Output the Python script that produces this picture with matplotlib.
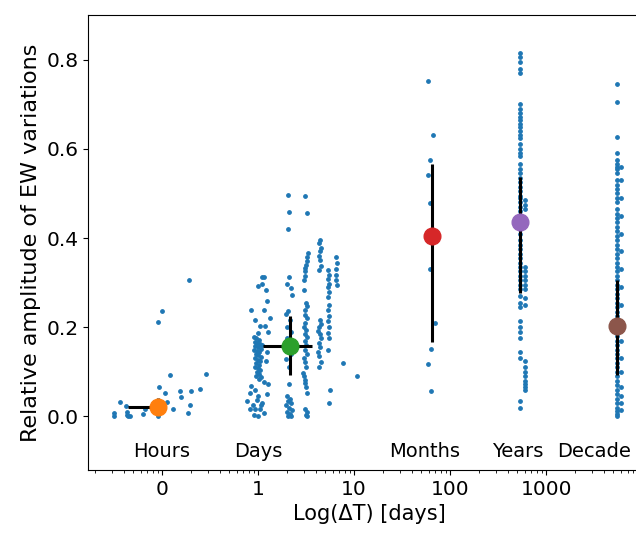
import matplotlib
matplotlib.use('Agg')
import matplotlib.pyplot as plt
from matplotlib.ticker import FixedLocator, FixedFormatter

# time baselines (days) and relative EW amplitude per group
hours_dt = [0.0316, 0.0316, 0.0365, 0.042, 0.043, 0.043, 0.044, 0.046, 0.063, 0.066,
            0.091, 0.092, 0.093, 0.100, 0.107, 0.113, 0.121, 0.130, 0.154, 0.158,
            0.187, 0.191, 0.196, 0.200, 0.249, 0.287]
hours_amp = [0.008, 0.0, 0.033, 0.023, 0.010, 0.004, 0.0, 0.0, 0.006, 0.016,
             0.0, 0.211, 0.067, 0.237, 0.052, 0.033, 0.094, 0.017, 0.058, 0.043,
             0.008, 0.306, 0.025, 0.058, 0.062, 0.096]

days_dt = [1.09, 1.14, 0.99, 1.11, 1.21, 1.23, 0.845, 1.14, 1.32, 0.93, 1.05, 1.18, 1.28, 1.0,
           0.90, 0.95, 1.02, 0.92, 0.98, 1.05, 1.10, 0.94, 1.0, 1.07, 0.91, 0.97, 1.03, 1.25, 0.95,
           1.01, 1.08, 0.93, 0.99, 1.04, 1.20, 0.96, 1.02, 0.94, 1.0, 1.06, 0.97, 1.03, 0.95, 1.08,
           1.02, 1.14, 1.28, 0.845, 0.93, 0.825, 1.23, 1.01, 0.76, 0.97, 1.09, 0.825, 0.93, 1.05,
           0.9, 1.01, 1.14, 1.07, 0.88,
           2.05, 2.1, 2.05, 2.1, 2.0, 2.2, 2.24, 2.07, 1.95, 2.15, 2.0, 2.2, 1.98, 2.1, 2.05, 2.2,
           1.95, 2.1, 2.12, 2.0, 2.15, 2.05, 2.2, 1.97, 2.1, 2.25, 2.0, 2.15, 2.05, 2.2,
           3.1, 3.2, 3.3, 3.25, 3.2, 3.15, 3.1, 3.05, 3.1, 3.0, 3.0, 3.15, 3.2, 3.1, 3.05, 3.2,
           3.1, 3.0, 3.15, 3.1, 3.2, 3.05, 3.15, 3.1, 3.2, 3.0, 3.1, 3.15, 2.95, 3.0, 3.05, 3.1,
           3.15, 3.2, 3.1, 3.2, 3.15, 3.25,
           4.4, 4.3, 4.5, 4.4, 4.3, 4.4, 4.5, 4.3, 4.4, 4.5, 4.3, 4.2, 4.4, 4.5, 4.3, 4.4, 4.2,
           4.35, 4.5, 4.3,
           5.4, 5.5, 5.4, 5.5, 5.3, 5.5, 5.4, 5.5, 5.4, 5.5, 5.4, 5.5, 5.4, 5.5, 5.4, 5.6, 5.5,
           6.5, 6.6, 6.5, 6.55, 6.5, 6.6,
           7.7, 10.7]
days_amp = [0.312, 0.312, 0.293, 0.297, 0.284, 0.258, 0.239, 0.239, 0.22, 0.217, 0.202, 0.202, 0.19, 0.188,
            0.178, 0.175, 0.172, 0.168, 0.165, 0.162, 0.16, 0.157, 0.155, 0.152, 0.15, 0.147, 0.145, 0.145, 0.14,
            0.137, 0.134, 0.13, 0.127, 0.124, 0.124, 0.12, 0.116, 0.112, 0.108, 0.104, 0.1, 0.095, 0.09, 0.088,
            0.083, 0.078, 0.072, 0.068, 0.06, 0.053, 0.05, 0.045, 0.034, 0.036, 0.031, 0.016, 0.016, 0.016,
            0.004, 0.001, 0.008, 0.025, 0.026,
            0.496, 0.458, 0.42, 0.313, 0.297, 0.288, 0.272, 0.237, 0.23, 0.217, 0.2, 0.19, 0.175, 0.168, 0.15, 0.14,
            0.128, 0.11, 0.072, 0.045, 0.04, 0.035, 0.03, 0.025, 0.02, 0.015, 0.01, 0.006, 0.002, 0.0,
            0.494, 0.456, 0.366, 0.357, 0.348, 0.34, 0.332, 0.325, 0.316, 0.306, 0.284, 0.255, 0.247, 0.238, 0.228, 0.22,
            0.21, 0.2, 0.194, 0.186, 0.178, 0.17, 0.16, 0.15, 0.14, 0.13, 0.122, 0.112, 0.098, 0.09, 0.082, 0.075,
            0.065, 0.053, 0.016, 0.01, 0.004, 0.0,
            0.396, 0.388, 0.378, 0.37, 0.36, 0.35, 0.338, 0.328, 0.217, 0.208, 0.2, 0.192, 0.185, 0.175, 0.165, 0.155, 0.145,
            0.135, 0.122, 0.112,
            0.328, 0.318, 0.308, 0.298, 0.29, 0.28, 0.268, 0.25, 0.238, 0.226, 0.214, 0.2, 0.188, 0.175, 0.15, 0.06, 0.03,
            0.357, 0.345, 0.33, 0.318, 0.305, 0.295,
            0.12, 0.09]

months_dt = [59, 66, 62, 59, 62, 62, 70, 63, 59, 63]
months_amp = [0.751, 0.632, 0.574, 0.541, 0.478, 0.331, 0.21, 0.152, 0.118, 0.056]

years_dt = [536] * 58 + [600] * 19
years_amp = [0.815, 0.805, 0.795, 0.78, 0.77, 0.70, 0.69, 0.68, 0.672, 0.665, 0.655, 0.648, 0.64, 0.632,
             0.625, 0.61, 0.60, 0.59, 0.585, 0.565, 0.555, 0.545, 0.535, 0.525, 0.515, 0.505, 0.495, 0.49,
             0.48, 0.47, 0.46, 0.45, 0.44, 0.42, 0.41, 0.395, 0.385, 0.375, 0.365, 0.355, 0.345, 0.335,
             0.325, 0.315, 0.305, 0.295, 0.285, 0.27, 0.255, 0.245, 0.215, 0.2, 0.19, 0.175, 0.145, 0.13,
             0.035, 0.018,
             0.485, 0.475, 0.465, 0.335, 0.325, 0.315, 0.305, 0.295, 0.285, 0.265, 0.25, 0.125, 0.11,
             0.1, 0.09, 0.08, 0.072, 0.065, 0.06]

decade_dt = [5500] * 62 + [6000] * 17
decade_amp = [0.746, 0.704, 0.626, 0.59, 0.575, 0.565, 0.56, 0.555, 0.545, 0.53, 0.52, 0.51, 0.5, 0.49,
              0.48, 0.465, 0.455, 0.445, 0.435, 0.425, 0.415, 0.405, 0.395, 0.385, 0.375, 0.365, 0.355,
              0.345, 0.335, 0.325, 0.315, 0.305, 0.295, 0.285, 0.275, 0.265, 0.255, 0.245, 0.235, 0.225,
              0.215, 0.19, 0.18, 0.17, 0.16, 0.15, 0.14, 0.13, 0.12, 0.11, 0.1, 0.09, 0.08, 0.07, 0.06,
              0.05, 0.04, 0.03, 0.02, 0.012, 0.005, 0.0,
              0.56, 0.53, 0.49, 0.45, 0.41, 0.37, 0.33, 0.29, 0.25, 0.21, 0.17, 0.13, 0.1, 0.065, 0.045,
              0.03, 0.015]

# group summaries: centre, x range, y range
mean_dt = [0.091, 2.15, 65, 536, 5500]
mean_amp = [0.022, 0.159, 0.405, 0.436, 0.203]
dt_lo = [0.044, 1.12, 65, 536, 5500]
dt_hi = [0.091, 3.65, 65, 536, 5500]
amp_lo = [0.010, 0.092, 0.168, 0.277, 0.094]
amp_hi = [0.042, 0.226, 0.565, 0.537, 0.306]
mean_colors = ['#ff7f0e', '#2ca02c', '#d62728', '#9467bd', '#8c564b']

group_names = ['Hours', 'Days', 'Months', 'Years', 'Decade']
group_label_dt = [0.1, 1.0, 54, 510, 3150]

tick_pos = [0.1, 1, 10, 100, 1000]
tick_labels = ['0', '1', '10', '100', '1000']

fig = plt.figure(figsize=(6.36, 5.33), dpi=100)
ax = fig.add_axes([88 / 636, 63 / 533, (650 - 88) / 636, 455 / 533])

all_dt = hours_dt + days_dt + months_dt + years_dt + decade_dt
all_amp = hours_amp + days_amp + months_amp + years_amp + decade_amp
ax.scatter(all_dt, all_amp, s=6, color='#1f77b4', zorder=1)

for i in range(len(mean_dt)):
    ax.errorbar(mean_dt[i], mean_amp[i],
                xerr=[[mean_dt[i] - dt_lo[i]], [dt_hi[i] - mean_dt[i]]],
                yerr=[[mean_amp[i] - amp_lo[i]], [amp_hi[i] - mean_amp[i]]],
                fmt='o', color=mean_colors[i], ecolor='black', elinewidth=2.2,
                markersize=12, capsize=0, zorder=3)

for name, x in zip(group_names, group_label_dt):
    ax.text(x, -0.078, name, ha='center', va='center', fontsize=14)

ax.set_xscale('log')
ax.set_xlim(0.017, 12000)
ax.set_ylim(-0.12, 0.9)
ax.xaxis.set_major_locator(FixedLocator(tick_pos))
ax.xaxis.set_major_formatter(FixedFormatter(tick_labels))
ax.set_yticks([0.0, 0.2, 0.4, 0.6, 0.8])
ax.set_yticklabels(['0.0', '0.2', '0.4', '0.6', '0.8'])
ax.tick_params(labelsize=14.5)
ax.set_xlabel('Log(ΔT) [days]', fontsize=15)
ax.set_ylabel('Relative amplitude of EW variations', fontsize=16)

fig.savefig('out.png', dpi=100)
